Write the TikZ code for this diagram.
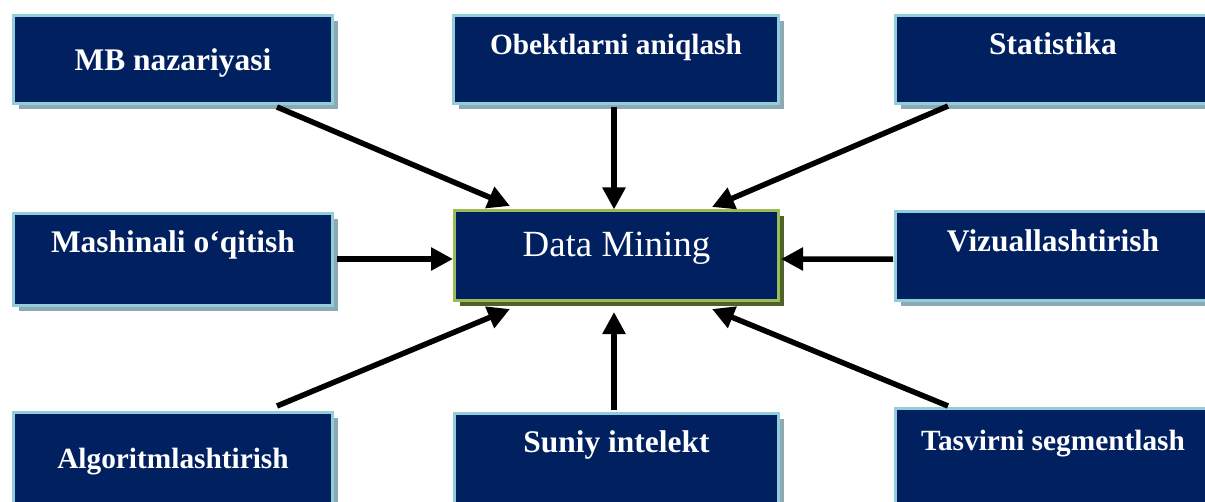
\documentclass[tikz,border=0pt]{standalone}
\usepackage{fontspec}
\setmainfont{Liberation Serif}
\usetikzlibrary{arrows.meta,shadows}

\definecolor{navy}{RGB}{0,32,96}
\definecolor{paleblue}{RGB}{146,205,220}
\definecolor{shadowblue}{RGB}{141,169,181}
\definecolor{leafgreen}{RGB}{155,187,89}
\definecolor{olive}{RGB}{79,98,40}

\tikzset{
  topic/.style={
    draw=paleblue, fill=navy, line width={3*0.75pt}, inner sep=0pt, outer sep=0pt,
    text=white, anchor=north west,
    font=\bfseries\fontsize{23.6}{28}\selectfont,
    drop shadow={shadow xshift={5.5*0.75pt}, shadow yshift={-5.5*0.75pt},
                 fill=shadowblue, opacity=1}},
  smalltopic/.style={topic, font=\bfseries\fontsize{22}{26}\selectfont},
  core/.style={
    draw=leafgreen, fill=navy, line width={3.5*0.75pt}, inner sep=0pt, outer sep=0pt,
    text=white, anchor=north west,
    font=\fontsize{27.7}{32}\selectfont,
    drop shadow={shadow xshift={5.5*0.75pt}, shadow yshift={-5.5*0.75pt},
                 fill=olive, opacity=1}},
  link/.style={line width={5.5*0.75pt}, -{Triangle[length={22*0.75pt}, width={22*0.75pt}]}}
}

\begin{document}
\begin{tikzpicture}[x=0.75pt, y=-0.75pt]
\useasboundingbox (0,0) rectangle (1205,502);
\clip (0,0) rectangle (1205,502);

% surrounding topics
\node[topic, minimum width={319*0.75pt}, text height={55.5*0.75pt}, text depth={32.5*0.75pt}]
  (mb) at (13.5,15.5) {MB nazariyasi};
\node[smalltopic, minimum width={325*0.75pt}, text height={39.5*0.75pt}, text depth={48.5*0.75pt}]
  (obj) at (453.5,15.5) {Obektlarni aniqlash};
\node[topic, minimum width={315*0.75pt}, text height={39.5*0.75pt}, text depth={48.5*0.75pt}]
  (stat) at (895.5,15.5) {Statistika};
\node[topic, minimum width={319*0.75pt}, text height={39.2*0.75pt}, text depth={52.8*0.75pt}]
  (ml) at (13.5,213.5) {Mashinali o‘qitish};
\node[topic, minimum width={315*0.75pt}, text height={39.5*0.75pt}, text depth={49.5*0.75pt}]
  (viz) at (895.5,211.5) {Vizuallashtirish};
\node[smalltopic, minimum width={319*0.75pt}, text height={55.5*0.75pt}, text depth={42*0.75pt}]
  (alg) at (13.5,412.5) {Algoritmlashtirish};
\node[topic, minimum width={324*0.75pt}, text height={39.2*0.75pt}, text depth={57.3*0.75pt}]
  (ai) at (454.5,413.5) {Suniy intelekt};
\node[smalltopic, minimum width={315*0.75pt}, text height={41.5*0.75pt}, text depth={60*0.75pt}]
  (seg) at (895.5,408.5) {Tasvirni segmentlash};

% central box
\node[core, minimum width={324*0.75pt}, text height={46.2*0.75pt}, text depth={43.8*0.75pt}]
  (dm) at (454.5,210.5) {Data Mining};

% arrows into the centre
\draw[link] ([shift={(104,3.5)}]mb.south)   -- ([shift={(-106.5,-4.5)}]dm.north);
\draw[link] ([shift={(-2,3.5)}]obj.south)   -- ([shift={(-2.5,-1)}]dm.north);
\draw[link] ([shift={(-105,2.5)}]stat.south) -- ([shift={(95.5,-3.5)}]dm.north);
\draw[link] ([shift={(4.5,-0.5)}]ml.east)   -- ([shift={(-1.5,3.5)}]dm.west);
\draw[link] ([shift={(-2.5,3)}]viz.west)    -- ([shift={(2.5,3.5)}]dm.east);
\draw[link] ([shift={(104,-6.5)}]alg.north) -- ([shift={(-106.5,8.5)}]dm.south);
\draw[link] ([shift={(-2.5,-3.5)}]ai.north) -- ([shift={(-2.5,11.5)}]dm.south);
\draw[link] ([shift={(-105,-2.5)}]seg.north) -- ([shift={(95.5,8.5)}]dm.south);
\end{tikzpicture}
\end{document}
